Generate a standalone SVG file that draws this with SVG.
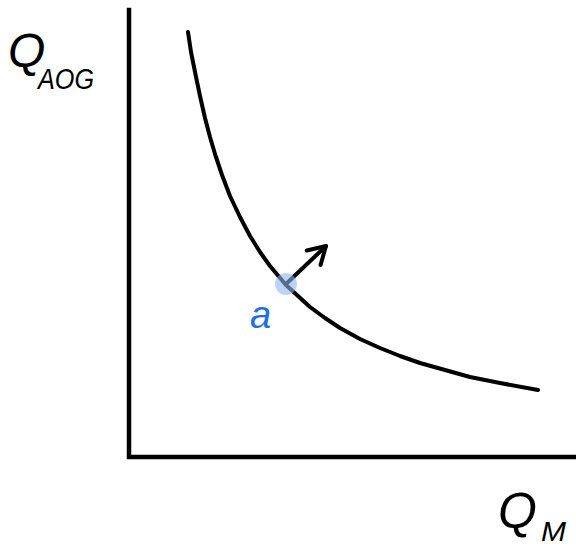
<svg xmlns="http://www.w3.org/2000/svg" width="576" height="550" viewBox="0 0 576 550">
<style>
.ax{fill:none;stroke:#000;stroke-width:4.5;stroke-linecap:square}
.cv{fill:none;stroke:#000;stroke-width:4;stroke-linecap:round;stroke-linejoin:round}
.lbl{font-family:"Liberation Sans",Arial,sans-serif;font-style:italic;fill:#000}
</style>
<defs>
<marker id="ah" markerUnits="userSpaceOnUse" viewBox="-20 -12 24 24" refX="0" refY="0" markerWidth="24" markerHeight="24" orient="auto">
<polyline points="-17,-10 0,0 -17,10" fill="none" stroke="#000" stroke-width="4" stroke-linecap="round" stroke-linejoin="round"/>
</marker>
</defs>
<rect width="576" height="550" fill="#fff"/>
<g id="axes">
<path class="ax" d="M129,10 L129,457 L576,457"/>
</g>
<g id="connectors">
<path id="curve" class="cv" d="M188,32 L191,52 L195,72 L200,96 L205,118 L210,137 L215,154 L222,175 L230,196 L240,217 L250,236 L260,252 L270,266 L286,285 L298,296 L310,307 L325,318 L340,328 L360,339 L380,348 L400,356 L420,363 L445,370 L470,377 L500,383 L538,390"/>
<line id="arrow" class="cv" x1="286" y1="284" x2="326" y2="246" marker-end="url(#ah)"/>
</g>
<g id="point-a">
<circle cx="286" cy="284" r="11" fill="#8fb6f0" fill-opacity="0.6"/>
<text x="250" y="328" font-family="Liberation Sans,Arial,sans-serif" font-style="italic" font-size="38" fill="#1f6fe0">a</text>
</g>
<g id="label-y">
<text class="lbl" x="8" y="67" font-size="48">Q</text>
<text class="lbl" x="38" y="89" font-size="30" textLength="56" lengthAdjust="spacingAndGlyphs">AOG</text>
</g>
<g id="label-x">
<text class="lbl" x="498" y="528" font-size="50">Q</text>
<text class="lbl" x="541" y="541" font-size="28" textLength="25" lengthAdjust="spacingAndGlyphs">M</text>
</g>
</svg>
